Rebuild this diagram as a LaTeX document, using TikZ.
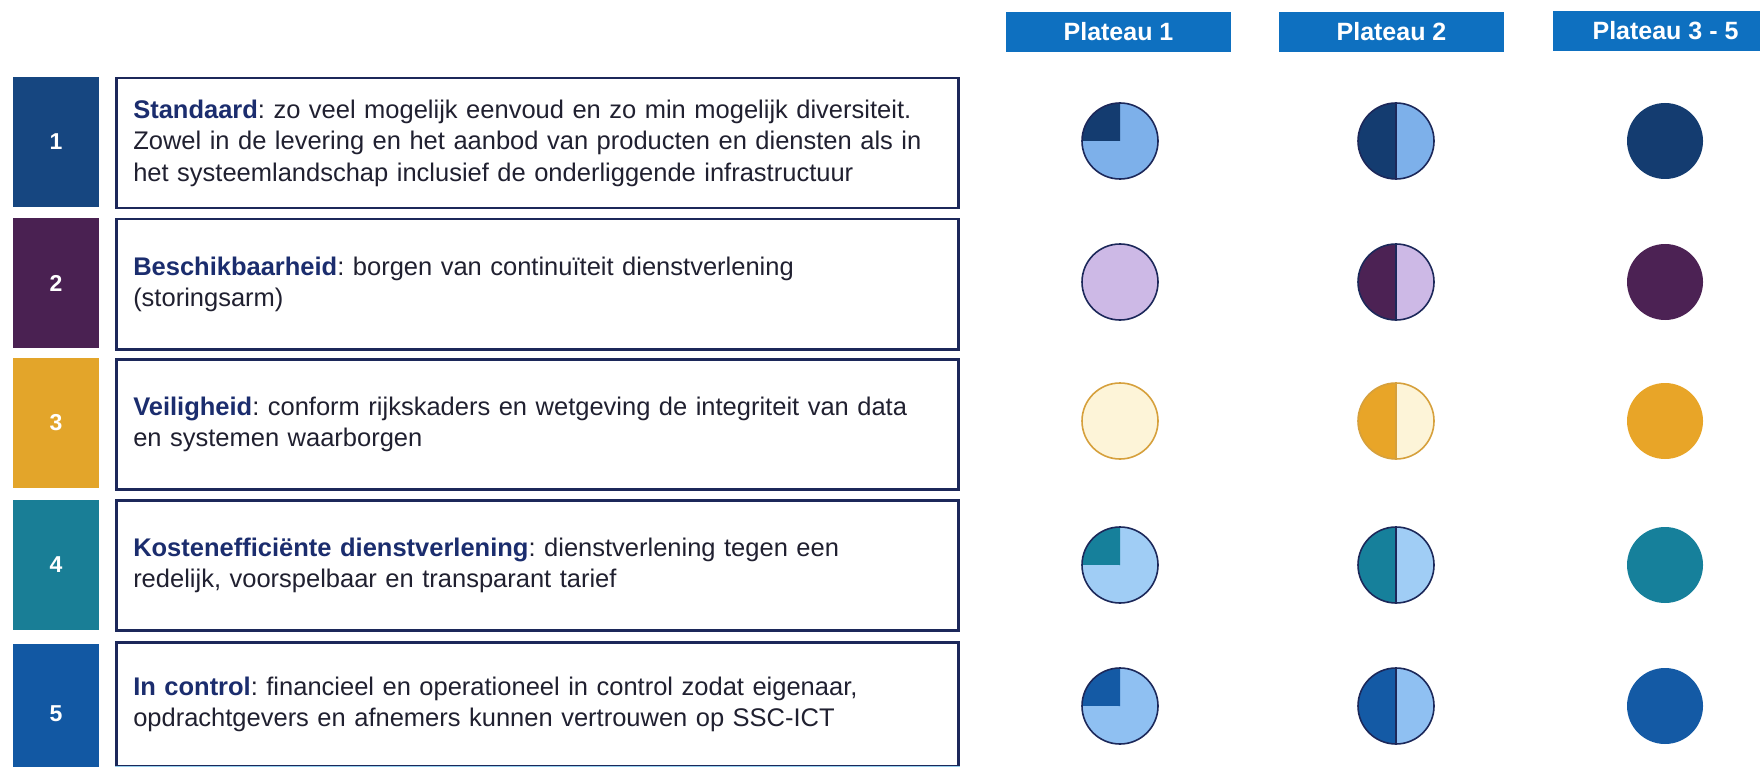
\documentclass[tikz,border=0pt]{standalone}
\usepackage{fontspec}
\setmainfont{Liberation Sans}
\definecolor{hdr}{RGB}{14,112,192}
\definecolor{boxline}{RGB}{28,40,90}
\definecolor{ttl}{RGB}{27,45,110}
\definecolor{txt}{RGB}{32,32,48}
\definecolor{n1}{RGB}{22,70,128}
\definecolor{n2}{RGB}{74,33,82}
\definecolor{n3}{RGB}{227,165,42}
\definecolor{n4}{RGB}{25,126,150}
\definecolor{n5}{RGB}{18,88,163}
\definecolor{d1}{RGB}{20,60,112}
\definecolor{l1}{RGB}{125,176,234}
\definecolor{d2}{RGB}{76,34,84}
\definecolor{l2}{RGB}{205,185,230}
\definecolor{d3}{RGB}{232,165,40}
\definecolor{l3}{RGB}{253,244,216}
\definecolor{o3}{RGB}{214,160,60}
\definecolor{d4}{RGB}{22,128,155}
\definecolor{l4}{RGB}{160,205,245}
\definecolor{d5}{RGB}{20,90,165}
\definecolor{l5}{RGB}{143,192,242}
\definecolor{cyanline}{RGB}{150,205,235}
\begin{document}
\frenchspacing
\begin{tikzpicture}[x=1pt,y=-1pt,
  numbox/.style={rectangle, inner sep=0pt, minimum width=86pt, minimum height=130pt,
    text=white, font=\fontsize{23}{27}\selectfont\bfseries},
  txtbox/.style={rectangle, draw=boxline, line width=2.5pt, anchor=north west,
    minimum width=842pt, minimum height=130pt, text width=808pt, inner xsep=17pt,
    align=left, text=txt, font=\fontsize{25.5}{31.5}\selectfont},
  hdrbox/.style={rectangle, fill=hdr, inner sep=0pt, minimum width=225pt, minimum height=40pt,
    text=white, font=\fontsize{25}{28}\selectfont\bfseries},
  pie/.style={circle, inner sep=0pt, minimum size=76pt},
  rim/.style={line width=1.6pt}
]
\clip (0,0) rectangle (1760,767);
\path[use as bounding box] (0,0) rectangle (1760,767);
\fill[white] (0,0) rectangle (1760,767);

% headers
\node[hdrbox] (h1) at (1118.5,32) {Plateau 1};
\node[hdrbox] (h2) at (1391.5,32) {Plateau 2};
\node[hdrbox] (h3) at (1665.5,31) {Plateau 3 - 5};

% number boxes
\node[numbox, fill=n1] (k1) at (56,142) {1};
\node[numbox, fill=n2] (k2) at (56,283) {2};
\node[numbox, fill=n3] (k3) at (56,423) {3};
\node[numbox, fill=n4] (k4) at (56,565) {4};
\node[numbox, fill=n5, minimum height=140pt] (k5) at (56,714) {5};

% text boxes
\node[txtbox] (t1) at (115,77) {\textcolor{ttl}{\textbf{Standaard}}: zo veel mogelijk eenvoud en zo min mogelijk diversiteit.\\Zowel in de levering en het aanbod van producten en diensten als in\\het systeemlandschap inclusief de onderliggende infrastructuur};
\node[txtbox] (t2) at (115,218) {\textcolor{ttl}{\textbf{Beschikbaarheid}}: borgen van continuïteit dienstverlening\\(storingsarm)};
\node[txtbox] (t3) at (115,358) {\textcolor{ttl}{\textbf{Veiligheid}}: conform rijkskaders en wetgeving de integriteit van data\\en systemen waarborgen};
\node[txtbox] (t4) at (115,499) {\textcolor{ttl}{\textbf{Kostenefficiënte dienstverlening}}: dienstverlening tegen een\\redelijk, voorspelbaar en transparant tarief};
\node[txtbox, minimum height=124pt] (t5) at (115,641) {\textcolor{ttl}{\textbf{In control}}: financieel en operationeel in control zodat eigenaar,\\opdrachtgevers en afnemers kunnen vertrouwen op SSC-ICT};
\draw[cyanline, line width=2.5pt] (t5.south west) -- (t5.south east);

% pies
\foreach \r/\yy/\dk/\lt/\ol/\q in {1/141/d1/l1/boxline/1, 2/282/d2/l2/boxline/0, 3/421/d3/l3/o3/0, 4/565/d4/l4/boxline/1, 5/706/d5/l5/boxline/1}{
  % plateau 1
  \node[pie, fill=\lt] (p\r a) at (1120,\yy) {};
  \ifnum\q=1
    \fill[\dk] (p\r a.center) -- (p\r a.north) arc[start angle=90, end angle=180, radius=38pt] -- cycle;
  \fi
  \draw[rim, draw=\ol] (p\r a.center) circle[radius=38pt];
  % plateau 2
  \node[pie, fill=\lt] (p\r b) at (1396,\yy) {};
  \fill[\dk] (p\r b.south) arc[start angle=270, end angle=90, radius=38pt] -- cycle;
  \draw[rim, draw=\ol] (p\r b.center) circle[radius=38pt];
  \draw[line width=1.2pt, draw=\ol] (p\r b.north) -- (p\r b.south);
  % plateau 3-5
  \node[pie, fill=\dk] (p\r c) at (1665,\yy) {};
}
\end{tikzpicture}
\end{document}
